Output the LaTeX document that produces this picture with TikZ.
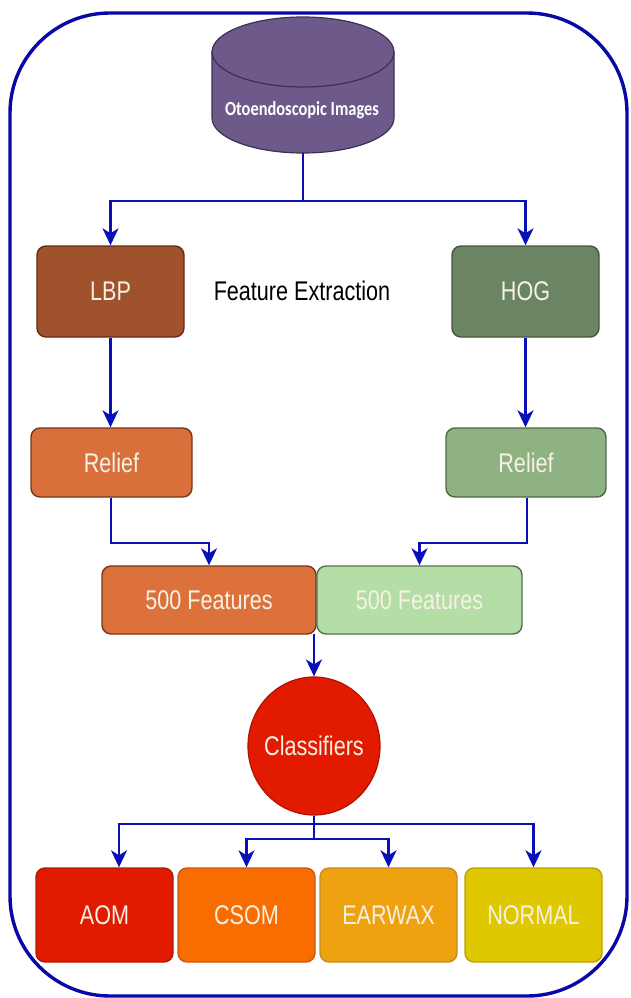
\documentclass[tikz,border=0pt]{standalone}
\usepackage{fontspec}
\setmainfont{Liberation Sans}[FakeStretch=0.8]
\newfontfamily\cylfont{Carlito}[FakeStretch=0.82]
\usetikzlibrary{arrows.meta,shapes.geometric}
\definecolor{bordblue}{HTML}{0808A8}
\definecolor{arrblue}{HTML}{0A10B8}
\definecolor{txtw}{HTML}{F6F1E4}
\definecolor{cylfill}{HTML}{6E5A8A}
\definecolor{cylline}{HTML}{3C2F52}
\definecolor{lbpF}{HTML}{A0522D}\definecolor{lbpD}{HTML}{6A2A10}
\definecolor{hogF}{HTML}{6B8462}\definecolor{hogD}{HTML}{45573F}
\definecolor{relaF}{HTML}{D9703C}\definecolor{relaD}{HTML}{7A3418}
\definecolor{relbF}{HTML}{8FB282}\definecolor{relbD}{HTML}{4E6848}
\definecolor{faF}{HTML}{DC713C}\definecolor{faD}{HTML}{7A3418}
\definecolor{fbF}{HTML}{B4DEA6}\definecolor{fbD}{HTML}{56704F}
\definecolor{clsF}{HTML}{E21A00}\definecolor{clsD}{HTML}{B01200}
\definecolor{aomF}{HTML}{E21A00}\definecolor{aomD}{HTML}{B01A0A}
\definecolor{csomF}{HTML}{F86C00}\definecolor{csomD}{HTML}{C85A12}
\definecolor{earF}{HTML}{EFA210}\definecolor{earD}{HTML}{C88A20}
\definecolor{norF}{HTML}{E0C800}\definecolor{norD}{HTML}{B8A300}
\begin{document}
\begin{tikzpicture}[x=1pt,y=-1pt,
  box/.style={rectangle,rounded corners=9pt,line width=1.4pt,minimum width=#1,inner sep=0pt,
    text=txtw,font=\fontsize{27}{30}\selectfont},
  arr/.style={draw=arrblue,line width=2.2pt,-{Stealth[length=17pt,width=16pt,inset=5pt]}},
  ln/.style={draw=arrblue,line width=2.2pt}]
\useasboundingbox (0,0) rectangle (630,998);
% outer frame
\draw[bordblue,line width=3.4pt,rounded corners=100pt] (10,13) rectangle (627,996);
% cylinder
\filldraw[fill=cylfill,draw=cylline,line width=1.2pt]
  (212,52) -- (212,118) arc[start angle=180,end angle=360,x radius=91,y radius=-35] -- (394,52)
  arc[start angle=0,end angle=180,x radius=91,y radius=-35] -- cycle;
\draw[cylline,line width=1.2pt] (212,52) arc[start angle=180,end angle=360,x radius=91,y radius=-35];
\node[text=white,font=\cylfont\bfseries\fontsize{20}{22}\selectfont] (cyl) at (302,110) {Otoendoscopic Images};
\coordinate (cylb) at (303,153);
% feature extraction
\node[box=147pt,minimum height=91pt,fill=lbpF,draw=lbpD] (lbp) at (110.5,291.5) {LBP};
\node[box=147pt,minimum height=91pt,fill=hogF,draw=hogD] (hog) at (525.5,291.5) {HOG};
\node[font=\fontsize{27}{30}\selectfont,text=black] (fe) at (302,291) {Feature Extraction};
\node[box=161pt,minimum height=69pt,fill=relaF,draw=relaD] (rel1) at (111.5,462.5) {Relief};
\node[box=160pt,minimum height=69pt,fill=relbF,draw=relbD] (rel2) at (526,462.5) {Relief};
\node[box=214pt,minimum height=68pt,fill=faF,draw=faD] (f1) at (209,600) {500 Features};
\node[box=205pt,minimum height=68pt,fill=fbF,draw=fbD] (f2) at (419.5,600) {500 Features};
\node[ellipse,minimum width=132pt,minimum height=138pt,inner sep=0pt,fill=clsF,draw=clsD,line width=1.2pt,
  label={[text=txtw,font=\fontsize{27}{30}\selectfont]center:Classifiers}] (cls) at (314,746) {};
\node[box=137pt,minimum height=94pt,fill=aomF,draw=aomD] (aom) at (104.5,915) {AOM};
\node[box=137pt,minimum height=94pt,fill=csomF,draw=csomD] (csom) at (246.5,915) {CSOM};
\node[box=137pt,minimum height=94pt,fill=earF,draw=earD] (ear) at (388.5,915) {EARWAX};
\node[box=137pt,minimum height=94pt,fill=norF,draw=norD] (nor) at (533.5,915) {NORMAL};
% connectors
\coordinate (s1) at (303,201);
\draw[ln] (cylb) -- (s1);
\draw[arr] (s1) -| (lbp.north);
\draw[arr] (s1) -| (hog.north);
\draw[arr] (lbp.south) -- (lbp.south |- rel1.north);
\draw[arr] (hog.south) -- (hog.south |- rel2.north);
\coordinate (k1) at (111,543);
\coordinate (k2) at (527,543);
\draw[arr] (rel1.south -| k1) -- (k1) -| (f1.north);
\draw[arr] (rel2.south -| k2) -- (k2) -| (f2.north);
\coordinate (fj) at (314,634);
\draw[arr] (fj) -- (cls.north);
\coordinate (b1) at (314,824);
\coordinate (b2) at (314,839);
\draw[ln] (cls.south) -- (b2);
\draw[arr] (b1) -| ([xshift=14.5pt]aom.north);
\draw[arr] (b1) -| (nor.north);
\draw[arr] (b2) -| (csom.north);
\draw[arr] (b2) -| (ear.north);
\end{tikzpicture}
\end{document}
